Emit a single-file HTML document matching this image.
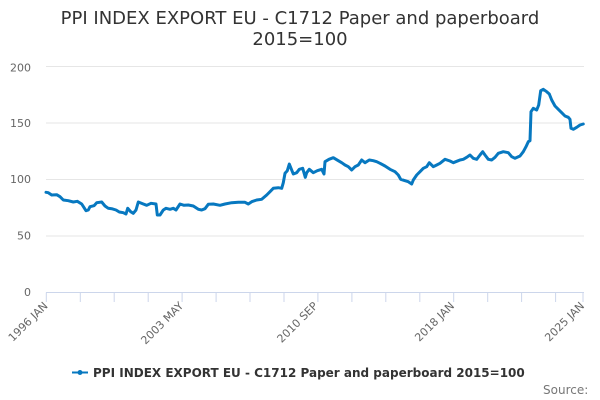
<!DOCTYPE html>
<html>
<head>
<meta charset="utf-8">
<style>
  html, body { margin: 0; padding: 0; background: #ffffff; }
  svg { display: block; font-family: "DejaVu Sans", "Liberation Sans", sans-serif; }
</style>
</head>
<body>
<svg width="600" height="400" viewBox="0 0 600 400" xmlns="http://www.w3.org/2000/svg">
  <rect x="0" y="0" width="600" height="400" fill="#ffffff"/>

  <!-- Title -->
  <text x="300" y="24" text-anchor="middle" font-size="18" fill="#333333">PPI INDEX EXPORT EU - C1712 Paper and paperboard</text>
  <text x="300" y="45" text-anchor="middle" font-size="18" fill="#333333">2015=100</text>

  <!-- Grid lines -->
  <g stroke="#e6e6e6" stroke-width="1">
    <line x1="46" y1="66.5" x2="584" y2="66.5"/>
    <line x1="46" y1="123" x2="584" y2="123"/>
    <line x1="46" y1="179.5" x2="584" y2="179.5"/>
    <line x1="46" y1="236" x2="584" y2="236"/>
  </g>

  <!-- Y labels -->
  <g font-size="11" fill="#666666" text-anchor="end">
    <text x="31" y="71.5">200</text>
    <text x="31" y="127">150</text>
    <text x="31" y="183">100</text>
    <text x="31" y="239.5">50</text>
    <text x="31" y="296">0</text>
  </g>

  <!-- X axis -->
  <line x1="46" y1="292.5" x2="584" y2="292.5" stroke="#ccd6eb" stroke-width="1"/>
  <g stroke="#ccd6eb" stroke-width="1">
    <line x1="46.3" y1="292.5" x2="46.3" y2="302"/>
    <line x1="80.3" y1="292.5" x2="80.3" y2="302"/>
    <line x1="114.2" y1="292.5" x2="114.2" y2="302"/>
    <line x1="148.2" y1="292.5" x2="148.2" y2="302"/>
    <line x1="182.1" y1="292.5" x2="182.1" y2="302"/>
    <line x1="216.1" y1="292.5" x2="216.1" y2="302"/>
    <line x1="250" y1="292.5" x2="250" y2="302"/>
    <line x1="284" y1="292.5" x2="284" y2="302"/>
    <line x1="317.9" y1="292.5" x2="317.9" y2="302"/>
    <line x1="351.9" y1="292.5" x2="351.9" y2="302"/>
    <line x1="385.8" y1="292.5" x2="385.8" y2="302"/>
    <line x1="419.8" y1="292.5" x2="419.8" y2="302"/>
    <line x1="453.7" y1="292.5" x2="453.7" y2="302"/>
    <line x1="487.7" y1="292.5" x2="487.7" y2="302"/>
    <line x1="521.6" y1="292.5" x2="521.6" y2="302"/>
    <line x1="555.6" y1="292.5" x2="555.6" y2="302"/>
    <line x1="583" y1="292.5" x2="583" y2="302"/>
  </g>

  <!-- X labels -->
  <g font-size="11" fill="#666666" text-anchor="end">
    <text x="48.5" y="306.5" transform="rotate(-45 48.5 306.5)">1996 JAN</text>
    <text x="184" y="306.5" transform="rotate(-45 184 306.5)">2003 MAY</text>
    <text x="318.5" y="306.5" transform="rotate(-45 318.5 306.5)">2010 SEP</text>
    <text x="455" y="306.5" transform="rotate(-45 455 306.5)">2018 JAN</text>
    <text x="585" y="306.5" transform="rotate(-45 585 306.5)">2025 JAN</text>
  </g>

  <!-- Series -->
  <polyline fill="none" stroke="#0778c0" stroke-width="3" stroke-linejoin="round" stroke-linecap="round"
    points="46,192.3 48.3,192.7 51.7,195 56.7,194.7 60,196.7 63.3,200 68.3,200.7 73.3,202 77.3,201.3 81.7,204 86,210.7 88.3,210 90,206.7 94,205.7 96.7,202.7 101.7,202 105,206 108.3,208.3 111.7,208.7 116,210 119.3,212 123.3,212.7 126,214 127.7,208.3 130.7,211.7 133.3,213.3 136,210 138.3,202 143.3,204 146.7,205.3 151,203.3 156,204 157.3,215 160,215 163.3,210 166,208.3 170,209.3 173.3,208.3 176,210 180,204 184,205.3 188.3,205 193.3,206 198.3,209.3 201.7,210 205,208.7 208.3,204.3 213.3,204 220,205.3 225,204 231.7,202.7 238.3,202.3 245,202.3 248.3,204 251.7,201.7 256.7,200 261.7,199.3 266.7,195 270,191.7 273.3,188.3 278.3,187.7 281.7,188.3 283.3,182.7 285,173.3 287.3,170.7 289.3,164 291,168.3 293.3,174 296.7,172.7 299.3,169.3 302.7,168.3 305.3,177.3 306.7,172.7 309.3,169.3 313.3,172.7 317.3,170.7 321.7,169.3 324,174 325,161.7 329,159.3 333.3,157.7 338.3,160.7 341.7,162.7 345,165 348.3,166.7 351.7,170 355,166.7 358.3,165 361.7,160 365,162.7 369.3,160 373.3,160.7 376.7,161.7 380,163.3 385,166 390,169.3 395,171.7 398.3,175 400.7,179.3 405,180.7 408.3,181.7 411.7,184 413.3,180 416.7,175 420,171.7 423.3,168.3 426.7,166.7 429.3,162.7 433.3,166.7 436.7,165 440,163.3 445,159.3 450,161 453.3,162.7 458.3,160.7 460,160 463.3,159.3 466.7,157.3 470,155 473.3,158.3 476.7,159.3 480,155 482.7,151.7 485,155 488.3,159.3 491.7,160 495,157.3 498.3,153.3 503.3,151.7 508.3,152.7 511.7,156.7 515,158.3 520,156 523.3,151.7 526,146.7 528.3,141.7 530,140.7 531,111.7 533.3,108.3 536.7,110 538.7,105 540.7,90.7 543.3,89.3 546.7,91.7 549.3,94 551.7,100 555,106 558.3,109.3 561.7,112.7 565,116 568.3,117.3 570,119.3 571,128.3 573.3,129.3 576.7,127.3 580,125 583.3,124"/>

  <!-- Legend -->
  <line x1="72" y1="372.5" x2="88" y2="372.5" stroke="#0778c0" stroke-width="2"/>
  <circle cx="80" cy="372.5" r="2.5" fill="#0778c0"/>
  <text x="93" y="377" font-size="12" font-weight="bold" fill="#333333">PPI INDEX EXPORT EU - C1712 Paper and paperboard 2015=100</text>

  <!-- Credits -->
  <text x="543" y="394" font-size="12" fill="#777777">Source:</text>
</svg>
</body>
</html>
